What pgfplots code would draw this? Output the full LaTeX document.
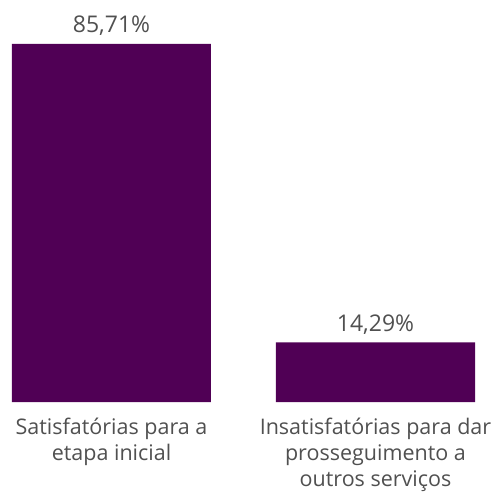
\documentclass[border=0pt]{standalone}
\usepackage{pgfplots}
\pgfplotsset{compat=1.18}
\usepackage{fontspec}
\setmainfont{Open Sans}
\definecolor{barpurple}{RGB}{80,0,85}
\definecolor{txtgray}{RGB}{80,80,80}
\begin{document}
\begin{tikzpicture}
\path[use as bounding box] (0,0) rectangle (500pt,493pt);
\begin{axis}[
  at={(0pt,91pt)}, anchor=south west,
  scale only axis, width=500pt, height=402pt,
  xmin=-0.4223, xmax=1.4716, ymin=0, ymax=96.24,
  axis line style={draw=none},
  tick style={draw=none},
  major tick length=0pt,
  ytick=\empty,
  xtick={0,1},
  xticklabels={{Satisfatórias para a\\etapa inicial},{Insatisfatórias para dar\\prosseguimento a\\outros serviços}},
  xticklabel style={align=center, font=\fontsize{21.5}{26}\selectfont, text=txtgray, anchor=north, yshift=-12pt},
  ybar, bar width=199pt,
  nodes near coords={\pgfmathprintnumber[fixed,fixed zerofill,precision=2,use comma]{\pgfplotspointmeta}\%},
  /pgf/number format/assume math mode=true,
  every node near coord/.append style={font=\fontsize{23}{27}\selectfont, text=txtgray, anchor=base, yshift=11pt},
]
\addplot[fill=barpurple, draw=none] coordinates {(0,85.71) (1,14.29)};
\end{axis}
\end{tikzpicture}
\end{document}
